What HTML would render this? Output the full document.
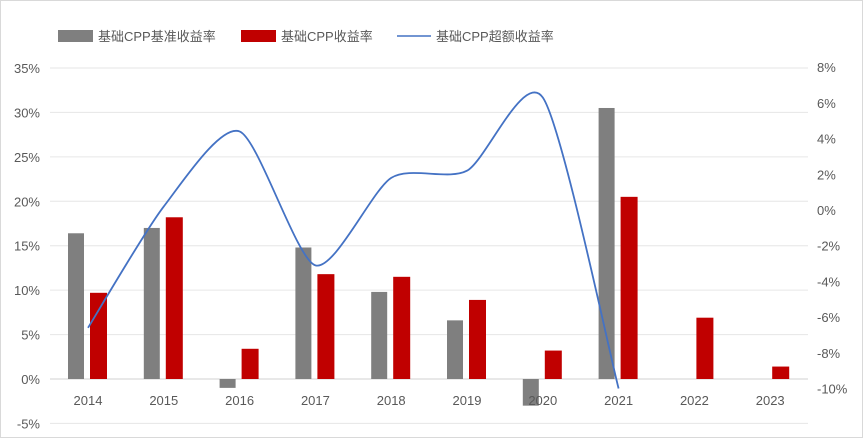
<!DOCTYPE html>
<html><head><meta charset="utf-8"><style>
body{margin:0;background:#fff;}
svg{display:block;font-family:"Liberation Sans","Noto Sans CJK SC",sans-serif;}
</style></head><body>
<svg id="c" width="865" height="440">
<rect x="0.5" y="0.5" width="862" height="437" fill="#fff" stroke="#d9d9d9"/>
<g id="legend">
<rect x="58" y="30" width="35" height="12" fill="#7f7f7f"/>
<text x="98" y="41" font-size="13" fill="#595959">基础CPP基准收益率</text>
<rect x="241" y="30" width="35" height="12" fill="#c00000"/>
<text x="281" y="41" font-size="13" fill="#595959">基础CPP收益率</text>
<line x1="397" y1="36" x2="431" y2="36" stroke="#4472c4" stroke-width="1.5"/>
<text x="436" y="41" font-size="13" fill="#595959">基础CPP超额收益率</text>
</g>
<g id="grid"></g><g id="bars"></g><g id="line"></g><g id="axes"></g>
</svg>
<script>
const categories=["2014","2015","2016","2017","2018","2019","2020","2021","2022","2023"];
const benchmark=[16.4,17.0,-1.0,14.8,9.8,6.6,-3.0,30.5,null,null];
const cppReturn=[9.7,18.2,3.4,11.8,11.5,8.9,3.2,20.5,6.9,1.4];
const excess=[-6.6,0.2,4.4,-3.1,1.8,2.2,6.3,-10.0];
const leftTicks=[-5,0,5,10,15,20,25,30,35];
const rightTicks=[-10,-8,-6,-4,-2,0,2,4,6,8];

const NS="http://www.w3.org/2000/svg";
function yL(v){return 379-v*(311/35);}
function yR(v){return 210-v*17.85;}
function xC(i){return 88+i*75.8;}
function mk(tag,attrs,parent,txt){const e=document.createElementNS(NS,tag);for(const k in attrs)e.setAttribute(k,attrs[k]);if(txt!==undefined)e.textContent=txt;document.getElementById(parent).appendChild(e);return e;}

leftTicks.forEach(t=>{
  const g=mk('line',{x1:50,x2:808,y1:yL(t),y2:yL(t),stroke:t===0?'#d0d0d0':'#e6e6e6','stroke-width':1},'grid');
  
  
  const l=mk('text',{x:40,y:yL(t)+5,'font-size':13,fill:'#595959','text-anchor':'end'},'axes',t+'%');
  
  
});
rightTicks.forEach(t=>{
  const l=mk('text',{x:817,y:yR(t)+5,'font-size':13,fill:'#595959'},'axes',t+'%');
  
  
});
categories.forEach((c,i)=>{
  const l=mk('text',{x:xC(i),y:405,'font-size':13,fill:'#595959','text-anchor':'middle'},'axes',c);
  
  
  if(benchmark[i]!==null){
    const v=benchmark[i];const y0=yL(0),y1=yL(v);
    const b=mk('rect',{x:xC(i)-20,y:Math.min(y0,y1),width:16,height:Math.abs(y1-y0),fill:'#7f7f7f'},'bars');
    
    
  }
  if(cppReturn[i]!==null){
    const v=cppReturn[i];const y0=yL(0),y1=yL(v);
    const b=mk('rect',{x:xC(i)+2,y:Math.min(y0,y1),width:17,height:Math.abs(y1-y0),fill:'#c00000'},'bars');
    
    
  }
});
const pts=excess.map((v,i)=>[xC(i),yR(v)]);
let d='M'+pts[0][0]+','+pts[0][1];
for(let i=0;i<pts.length-1;i++){
  const p0=pts[i-1]||pts[i],p1=pts[i],p2=pts[i+1],p3=pts[i+2]||p2;
  const c1=[p1[0]+(p2[0]-p0[0])/8,p1[1]+(p2[1]-p0[1])/8];
  const c2=[p2[0]-(p3[0]-p1[0])/8,p2[1]-(p3[1]-p1[1])/8];
  d+=' C'+c1.join(',')+' '+c2.join(',')+' '+p2.join(',');
}
const ln=mk('path',{d:d,fill:'none',stroke:'#4472c4','stroke-width':1.8},'line');


</script>
</body></html>
